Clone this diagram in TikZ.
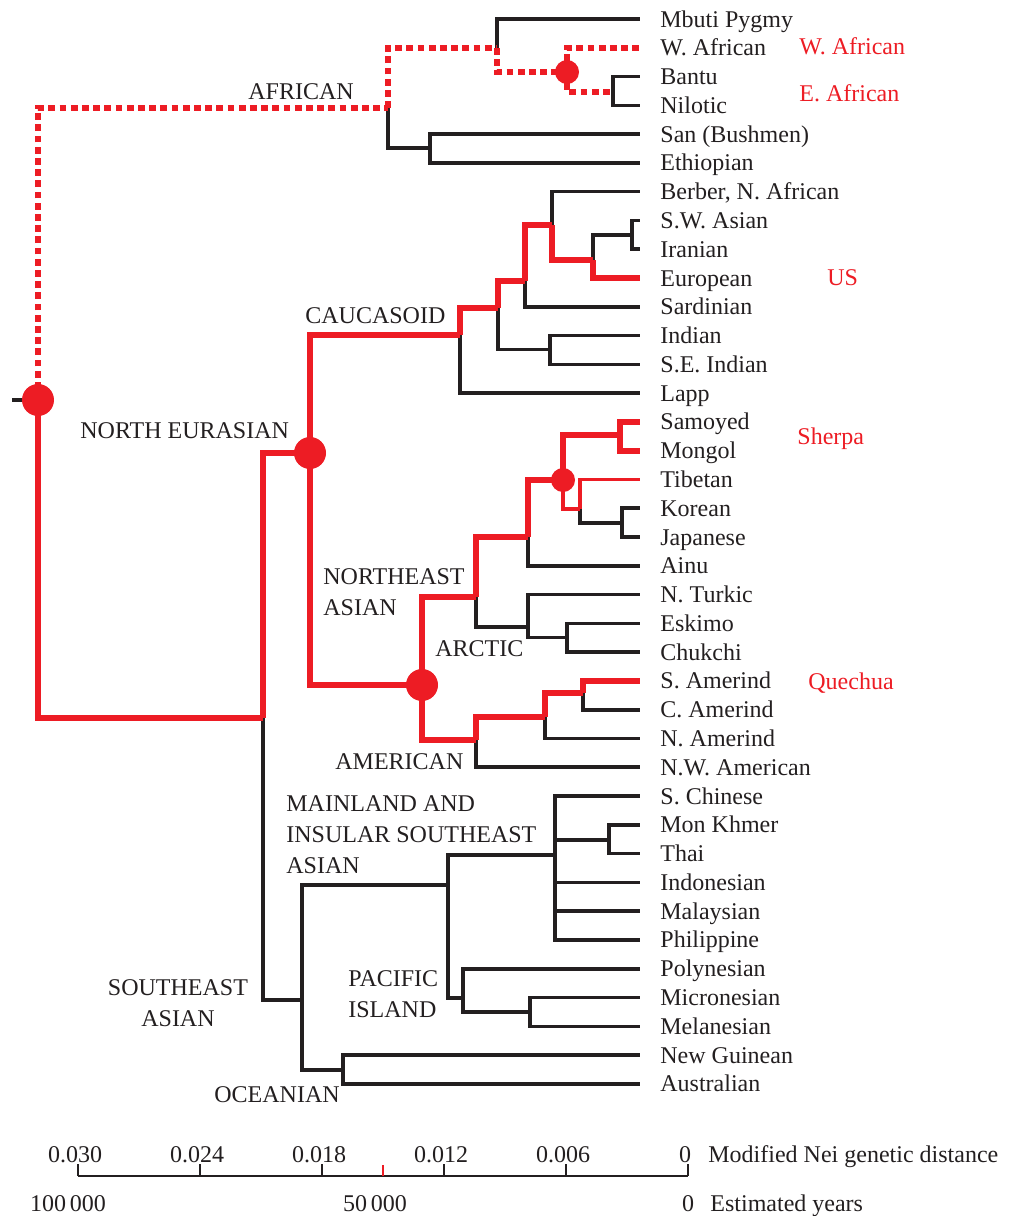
\documentclass[tikz,border=0pt]{standalone}
\usepackage{fontspec}
\setmainfont{Liberation Serif}
\definecolor{TreeRed}{RGB}{237,28,36}
\definecolor{TreeInk}{RGB}{35,31,32}
\usetikzlibrary{calc}

\begin{document}
\begin{tikzpicture}[x=0.5pt,y=-0.5pt,
  blk/.style={draw=TreeInk,line width=1.8pt},
  hot/.style={draw=TreeRed,line width=3.2pt},
  hotline/.style={draw=TreeRed,line width=1.7pt},
  dotpath/.style={draw=TreeRed,line width=3.2pt,dash pattern=on 3.4pt off 2.2pt},
  hub/.style={circle,fill=TreeRed,inner sep=0pt,minimum size=16pt},
  minihub/.style={hub,minimum size=12pt},
  pop/.style={anchor=base west,inner sep=0pt,text=TreeInk,font=\fontsize{12}{15.5}\selectfont},
  grp/.style={pop,align=left},
  tag/.style={pop,text=TreeRed}]
  \useasboundingbox (0,0) rectangle (1015,1216);

  \foreach \i/\pname in {1/Mbuti Pygmy,2/W. African,3/Bantu,4/Nilotic,5/San (Bushmen),6/Ethiopian,
    7/{Berber, N. African},8/S.W. Asian,9/Iranian,10/European,11/Sardinian,12/Indian,13/S.E. Indian,
    14/Lapp,15/Samoyed,16/Mongol,17/Tibetan,18/Korean,19/Japanese,20/Ainu,21/N. Turkic,22/Eskimo,
    23/Chukchi,24/S. Amerind,25/C. Amerind,26/N. Amerind,27/N.W. American,28/S. Chinese,29/Mon Khmer,
    30/Thai,31/Indonesian,32/Malaysian,33/Philippine,34/Polynesian,35/Micronesian,36/Melanesian,
    37/New Guinean,38/Australian}{
    \coordinate (L\i) at (640,{19+(\i-1)*28.78});
    \node[pop] (P\i) at (660,{27+(\i-1)*28.78}) {\pname};
  }

  \coordinate (stub) at (12,400);
  \coordinate (root) at (38,400);
  \coordinate (afr) at (388,108);
  \coordinate (mb) at (497,48);
  \coordinate (wab) at (567,72);
  \coordinate (bn) at (613,92);
  \coordinate (san) at (430,148);
  \coordinate (eur) at (263,718);
  \coordinate (ne) at (310,453);
  \coordinate (cau) at (460,335);
  \coordinate (c1) at (498,308);
  \coordinate (c2) at (525,281);
  \coordinate (c3) at (552,225);
  \coordinate (c4) at (593,260);
  \coordinate (c5) at (632,235);
  \coordinate (ind) at (550,349.5);
  \coordinate (nea) at (422,685);
  \coordinate (n1) at (476,597);
  \coordinate (n2) at (528,537);
  \coordinate (tib) at (563,480);
  \coordinate (sm) at (620,435);
  \coordinate (tk) at (580,509);
  \coordinate (kj) at (622,523);
  \coordinate (arc) at (528,627);
  \coordinate (ec) at (567,637.5);
  \coordinate (am) at (476,740);
  \coordinate (a1) at (545,717);
  \coordinate (a2) at (583,693);
  \coordinate (sea) at (302,1000);
  \coordinate (oc) at (343,1070);
  \coordinate (ms) at (448,885);
  \coordinate (sa) at (555,855);
  \coordinate (mk) at (609,840);
  \coordinate (pi) at (463,998);
  \coordinate (mm) at (530,1012);

  \draw[blk] (stub) -- (root);
  \draw[blk] (mb) |- (L1);
  \draw[blk] (bn) |- (L3) (bn) |- (L4);
  \draw[blk] (afr) |- (san) (san) |- (L5) (san) |- (L6);
  \draw[blk] (eur) |- (sea);
  \draw[blk] (cau) |- (L14) (c1) |- (ind) (ind) |- (L12) (ind) |- (L13);
  \draw[blk] (c2) |- (L11) (c3) |- (L7);
  \draw[blk] (c4) |- (c5) (c5) |- (L8) (c5) |- (L9);
  \draw[blk] (n2) |- (L20);
  \draw[blk] (tk) |- (kj) (kj) |- (L18) (kj) |- (L19);
  \draw[blk] (n1) |- (arc) (arc) |- (L21) (arc) |- (ec) (ec) |- (L22) (ec) |- (L23);
  \draw[blk] (am) |- (L27) (a1) |- (L26) (a2) |- (L25);
  \draw[blk] (sea) |- (ms) (sea) |- (oc) (oc) |- (L37) (oc) |- (L38);
  \draw[blk] (ms) |- (sa) (ms) |- (pi);
  \draw[blk] (sa) |- (L28) (sa) |- (mk) (sa) |- (L31) (sa) |- (L32) (sa) |- (L33);
  \draw[blk] (mk) |- (L29) (mk) |- (L30);
  \draw[blk] (pi) |- (L34) (pi) |- (mm) (mm) |- (L35) (mm) |- (L36);

  \draw[hot] (root) |- (eur);
  \draw[hot] (eur) |- (ne);
  \draw[hot] (ne) |- (cau) (cau) |- (c1) (c1) |- (c2) (c2) |- (c3) (c3) |- (c4) (c4) |- (L10);
  \draw[hot] (ne) |- (nea) (nea) |- (n1) (n1) |- (n2) (n2) |- (tib);
  \draw[hot] (tib) |- (sm) (sm) |- (L15) (sm) |- (L16);
  \draw[hot] (nea) |- (am) (am) |- (a1) (a1) |- (a2) (a2) |- (L24);
  \draw[hotline] (tib) |- (tk) (tk) |- (L17);
  \draw[dotpath] (root) |- (afr);
  \draw[dotpath] (afr) |- (mb);
  \draw[dotpath] (mb) |- (wab);
  \draw[dotpath] (wab) |- (L2);
  \draw[dotpath] (wab) |- (bn);

  \node[hub] (hRoot) at (root) {};
  \node[hub] (hNE) at (ne) {};
  \node[hub] (hNEA) at (nea) {};
  \node[minihub] (hWAB) at (wab) {};
  \node[minihub] (hTib) at (tib) {};

  \node[grp] (gAfr) at (248,99) {AFRICAN};
  \node[grp] (gCau) at (305,323) {CAUCASOID};
  \node[grp] (gNEu) at (80,438) {NORTH EURASIAN};
  \node[grp] (gNEA) at (323,615) {NORTHEAST\\ASIAN};
  \node[grp] (gArc) at (435,656) {ARCTIC};
  \node[grp] (gAm) at (335,769) {AMERICAN};
  \node[grp] (gMain) at (286,873) {MAINLAND AND\\INSULAR SOUTHEAST\\ASIAN};
  \node[grp] (gPac) at (348,1017) {PACIFIC\\ISLAND};
  \node[grp,anchor=base,align=center] (gSEA) at (178,1026) {SOUTHEAST\\ASIAN};
  \node[grp] (gOc) at (214,1102) {OCEANIAN};

  \node[tag] (tWA) at (799,54) {W. African};
  \node[tag] (tEA) at (799,101) {E. African};
  \node[tag] (tUS) at (827,285) {US};
  \node[tag] (tSh) at (797,444) {Sherpa};
  \node[tag] (tQu) at (808,689) {Quechua};

  \coordinate (ax0) at (78,1176);
  \coordinate (ax5) at (688,1176);
  \draw[draw=TreeInk,line width=1pt] (ax0) -- (ax5);
  \foreach \k/\v in {0/0.030,1/0.024,2/0.018,3/0.012,4/0.006,5/0}{
    \draw[draw=TreeInk,line width=1pt] ({78+\k*122},1176) -- ({78+\k*122},1164);
    \node[pop,anchor=base] (v\k) at ({78+\k*122-3},1162) {\v};
  }
  \draw[draw=TreeRed,line width=0.8pt] (383,1176) -- (383,1165);
  \node[pop] (axLab) at (708,1162) {Modified Nei genetic distance};
  \node[pop,anchor=base] (y0) at (68,1211) {100\,000};
  \node[pop,anchor=base] (y1) at (375,1211) {50\,000};
  \node[pop,anchor=base] (y2) at (688,1211) {0};
  \node[pop] (yrLab) at (710,1211) {Estimated years};
\end{tikzpicture}
\end{document}
